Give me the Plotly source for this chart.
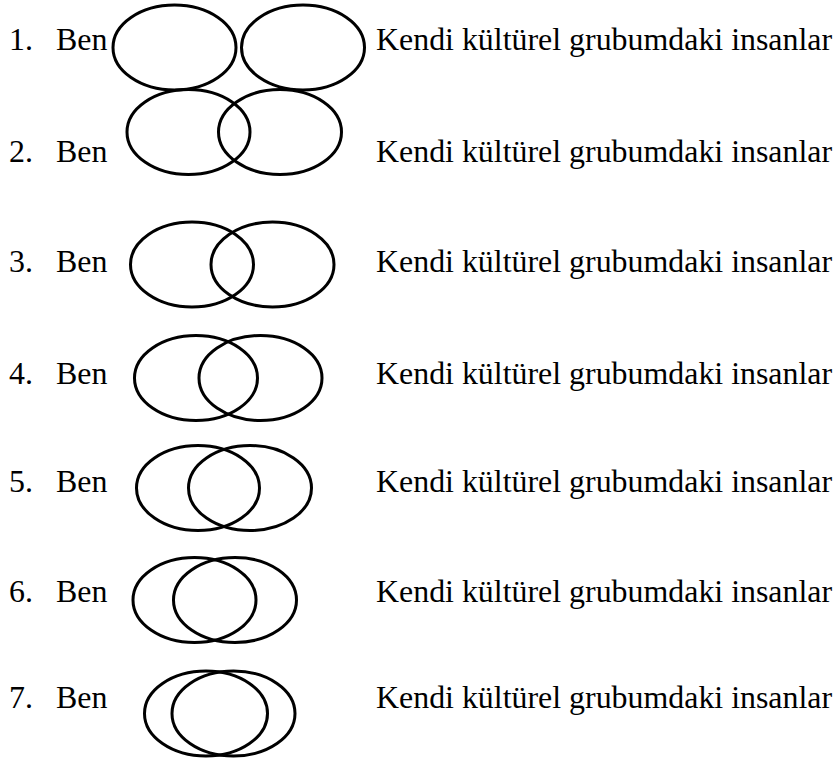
import plotly.graph_objects as go

# Inclusion-of-Other-in-Self scale: 7 items
items = ["1.", "2.", "3.", "4.", "5.", "6.", "7."]
self_label = "Ben"
other_label = "Kendi kültürel grubumdaki insanlar"
# horizontal centres of the two ellipses (px units of diagram)
left_cx = [174.5, 188.5, 192, 196, 198, 194.5, 206]
right_cx = [303, 280, 272.5, 260.5, 250, 235, 233.5]
row_cy = [47.5, 132, 264.5, 378, 488, 600, 713.5]
text_y = [39, 151.7, 261.7, 373.3, 481.7, 591.7, 697]

W, H = 838, 758
EW, EH = 123, 85

fig = go.Figure()
shapes = []
annotations = []
font = dict(family="Liberation Serif, Times New Roman, serif", size=31.9, color="black")
for i in range(len(items)):
    for cx in (left_cx[i], right_cx[i]):
        shapes.append(dict(type="circle", xref="x", yref="y",
                           x0=cx - EW / 2, x1=cx + EW / 2,
                           y0=row_cy[i] - EH / 2, y1=row_cy[i] + EH / 2,
                           line=dict(color="black", width=3)))
    annotations.append(dict(x=7, y=text_y[i], text=items[i], showarrow=False,
                            xanchor="left", yanchor="middle", font=font))
    annotations.append(dict(x=54, y=text_y[i], text=self_label, showarrow=False,
                            xanchor="left", yanchor="middle", font=font))
    annotations.append(dict(x=374, y=text_y[i], text=other_label, showarrow=False,
                            xanchor="left", yanchor="middle", font=font))

fig.update_layout(width=W, height=H, margin=dict(l=0, r=0, t=0, b=0),
                  paper_bgcolor="white", plot_bgcolor="white",
                  shapes=shapes, annotations=annotations, showlegend=False)
fig.update_xaxes(range=[0, W], visible=False, fixedrange=True)
fig.update_yaxes(range=[H, 0], visible=False, fixedrange=True)
fig.write_html("out.html", config={"displayModeBar": False},
               post_script="document.body.style.margin='0';document.body.style.overflow='hidden';")
